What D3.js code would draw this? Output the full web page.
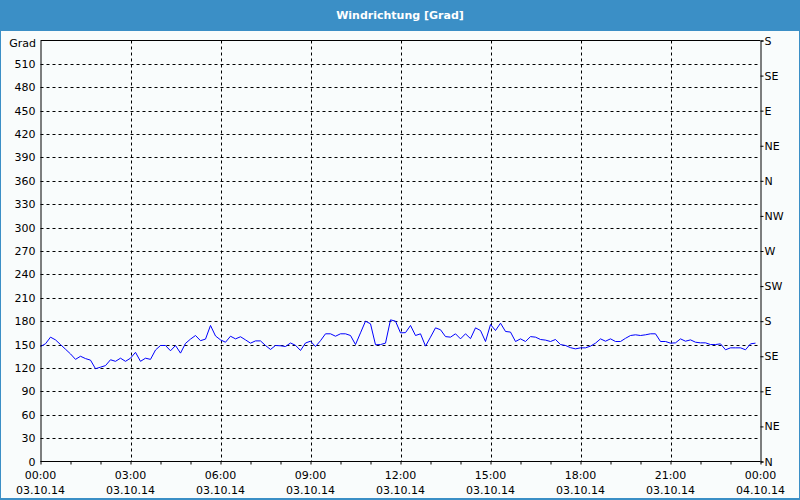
<!DOCTYPE html>
<html><head><meta charset="utf-8">
<script src="https://cdn.jsdelivr.net/npm/d3@7"></script>
<style>
html,body{margin:0;padding:0;background:#fff;}
svg{display:block;}
text{font-family:Tahoma,"DejaVu Sans",sans-serif;font-size:11px;fill:#000;}
</style></head><body>
<script>
// ---- data ----
const title = "Windrichtung [Grad]";
const unitLabel = "Grad";
const startTime = "2014-10-03T00:00:00";
const stepMinutes = 10;
const values = [
147.5,151,159.5,156,150,144,138,131,135,132,130,119,121,123,130.5,128.5,132.5,128.5,132.5,140,
128.5,132.5,131,143,148.8,148.8,142,148.8,139,151.5,157,161.6,155,157,174.5,161,156,153,160.7,157.3,
160,156,151.8,154.7,154.7,148.8,143.7,148.8,148.4,147.5,152,149,142.4,152,154.3,147.5,155,163.8,163.8,160.7,
163.8,163.8,161.6,150,165,180,176.6,149.7,150,151.8,181.7,180,165,165.3,174.5,161.6,163.8,148,159.5,171.4,
169,160.2,159.5,163.8,157.3,163.8,157.6,171.4,168,153.9,175.7,168,177.4,166.8,166,153.9,157.3,153.9,160.2,159.5,
156.5,155.7,153.9,156.5,150,148.8,146,144.5,145.8,145.8,148,151.8,157.3,154.3,157.3,153.9,153.9,158,161.6,162.5,
161.6,162.5,163.8,163.8,153.9,153.9,151.8,152.2,157.3,154.3,156,153,152.2,152.2,150,150,150.9,143.3,145.8,145.8,
145.8,143.3,150.9,151.8
];
const yTicks = [0,30,60,90,120,150,180,210,240,270,300,330,360,390,420,450,480,510];
const rightTickValues = [0,45,90,135,180,225,270,315,360,405,450,495,540];
const rightTickLabels = ["N","NE","E","SE","S","SW","W","NW","N","NE","E","SE","S"];
const xTickHours = [0,3,6,9,12,15,18,21,24];

// ---- layout ----
const W = 800, H = 500;
const L = 40.5, R = 760.5, T = 40.5, B = 461.5;
const parse = d3.timeParse("%Y-%m-%dT%H:%M:%S");
const t0 = parse(startTime);
const t1 = d3.timeHour.offset(t0, 24);
const pts = values.map((v,i)=>({t:d3.timeMinute.offset(t0,i*stepMinutes), v}));

const x = d3.scaleTime().domain([t0,t1]).range([L,R]);
const y = d3.scaleLinear().domain([0,540]).range([B,T]);

const svg = d3.select("body").append("svg").attr("width",W).attr("height",H);
svg.append("rect").attr("width",W).attr("height",H).attr("fill","#3b8fc6");
svg.append("rect").attr("x",1).attr("y",31).attr("width",W-2).attr("height",H-33).attr("fill","#f9fcfc");
svg.append("text").attr("x",W/2).attr("y",19).attr("text-anchor","middle")
  .style("font-weight","bold").style("fill","#fff").style("font-size","11px").text(title);

// grid
const g = svg.append("g");
g.selectAll(".hg").data(yTicks.filter(d=>d>0)).enter().append("line")
  .attr("x1",L).attr("x2",R).attr("y1",d=>Math.round(y(d))+0.5).attr("y2",d=>Math.round(y(d))+0.5)
  .attr("stroke","#000").attr("stroke-dasharray","3,3");
const xTicks = xTickHours.map(h=>d3.timeHour.offset(t0,h));
g.selectAll(".vg").data(xTicks.slice(1,-1)).enter().append("line")
  .attr("x1",d=>Math.round(x(d))+0.5).attr("x2",d=>Math.round(x(d))+0.5).attr("y1",T).attr("y2",B)
  .attr("stroke","#000").attr("stroke-dasharray","3,3");

// line
svg.append("path").datum(pts)
  .attr("d",d3.line().x(d=>x(d.t)).y(d=>y(d.v)))
  .attr("fill","none").attr("stroke","#0000ff").attr("stroke-width",1);

// top frame
svg.append("line").attr("x1",L).attr("x2",R).attr("y1",T).attr("y2",T).attr("stroke","#000");

// left axis
const yl = d3.axisLeft(y).tickValues(yTicks).tickSize(0).tickPadding(5);
const ga = svg.append("g").attr("transform",`translate(${L},0)`).call(yl);
ga.select(".domain").attr("stroke","#000");
ga.selectAll("text").style("font-family","Tahoma,'DejaVu Sans',sans-serif").style("font-size","11px");
svg.append("text").attr("x",36).attr("y",y(540)+6).attr("text-anchor","end").text(unitLabel);

// right axis
const yr = d3.axisRight(y).tickValues(rightTickValues).tickFormat((d,i)=>rightTickLabels[i]).tickSize(3).tickPadding(1);
const gr = svg.append("g").attr("transform",`translate(${R},0)`).call(yr);
gr.selectAll("text").style("font-family","Tahoma,'DejaVu Sans',sans-serif").style("font-size","11px");

// bottom axis
const xb = d3.axisBottom(x).ticks(d3.timeHour.every(1)).tickSize(3).tickFormat("");
const gb = svg.append("g").attr("transform",`translate(0,${B})`).call(xb);
gb.select(".domain").attr("d",`M${L},0H${R}`);
const fmtT = d3.timeFormat("%H:%M"), fmtD = d3.timeFormat("%d.%m.%y");
svg.selectAll(".xl1").data(xTicks).enter().append("text")
  .attr("x",d=>x(d)).attr("y",479).attr("text-anchor","middle").text(d=>fmtT(d));
svg.selectAll(".xl2").data(xTicks).enter().append("text")
  .attr("x",d=>x(d)).attr("y",494).attr("text-anchor","middle").text(d=>fmtD(d));
</script>
</body></html>
